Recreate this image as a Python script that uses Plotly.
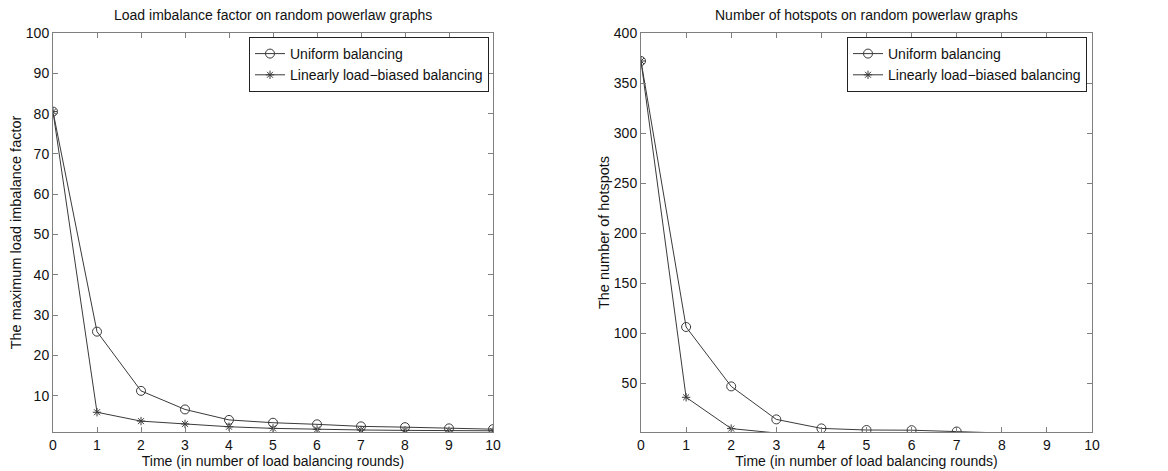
import plotly.graph_objects as go

rounds = [0, 1, 2, 3, 4, 5, 6, 7, 8, 9, 10]

imb_uniform = [80.5, 25.9, 11.2, 6.6, 4.0, 3.3, 2.9, 2.4, 2.2, 1.9, 1.7]
imb_biased = [80.5, 5.9, 3.7, 3.0, 2.3, 1.9, 1.65, 1.5, 1.4, 1.3, 1.3]

hot_uniform = [372, 106, 46.6, 13.6, 4.6, 3.0, 2.8, 1.5, 0, 0, 0]
hot_biased = [372, 35.7, 4.4, 0, 0, 0, 0, 0, 0, 0, 0]

left_yticks = [10, 20, 30, 40, 50, 60, 70, 80, 90, 100]
right_yticks = [50, 100, 150, 200, 250, 300, 350, 400]
left_yrange = [1, 100]
right_yrange = [1, 400]

series_names = ["Uniform balancing", "Linearly load\u2212biased balancing"]

FONT = "Liberation Sans, Arial, sans-serif"
LINE = "#3a3a3a"
AXC = "#7f7f7f"

fig = go.Figure()

def add(xa, ya, y, ymin, name, symbol, size, legend):
    # like MATLAB, markers below the axis limit are not drawn
    opac = [1 if v >= ymin else 0 for v in y]
    fig.add_trace(go.Scatter(
        x=rounds, y=y, mode="lines+markers", name=name,
        xaxis=xa, yaxis=ya, showlegend=False,
        line=dict(color=LINE, width=1),
        marker=dict(symbol=symbol, size=size, color=LINE, opacity=opac,
                    line=dict(color=LINE, width=1)),
    ))
    # legend entry with uniform marker styling
    fig.add_trace(go.Scatter(
        x=[None], y=[None], mode="lines+markers", name=name,
        xaxis=xa, yaxis=ya, legend=legend, showlegend=True,
        line=dict(color=LINE, width=1),
        marker=dict(symbol=symbol, size=size, color=LINE,
                    line=dict(color=LINE, width=1)),
    ))

add("x", "y", imb_uniform, left_yrange[0], series_names[0], "circle-open", 9, "legend")
add("x", "y", imb_biased, left_yrange[0], series_names[1], "asterisk-open", 7, "legend")
add("x2", "y2", hot_uniform, right_yrange[0], series_names[0], "circle-open", 9, "legend2")
add("x2", "y2", hot_biased, right_yrange[0], series_names[1], "asterisk-open", 7, "legend2")

ydom = [(471 - 432) / 471, (471 - 33) / 471]
xdom1 = [53 / 1168, 493 / 1168]
xdom2 = [641 / 1168, 1092 / 1168]

axis_common = dict(
    showline=True, linecolor=AXC, linewidth=1, mirror="ticks",
    ticks="inside", ticklen=5, tickcolor=AXC, showgrid=False, zeroline=False,
    automargin=False,
    tickfont=dict(family=FONT, size=14, color="#111"),
)
xtitle_font = dict(family=FONT, size=14, color="#111")
ytitle_font = dict(family=FONT, size=14.5, color="#111")

legend_common = dict(
    xanchor="right", yanchor="top",
    bordercolor="#222", borderwidth=1, bgcolor="white",
    font=dict(family=FONT, size=14, color="#111"),
    tracegroupgap=0, itemwidth=30,
)

fig.update_layout(
    width=1168, height=471,
    margin=dict(l=0, r=0, t=0, b=0, autoexpand=False),
    paper_bgcolor="white", plot_bgcolor="white",
    showlegend=True,
    xaxis=dict(domain=xdom1, anchor="y", range=[0, 10], dtick=1, tick0=0,
               title=dict(text="Time (in number of load balancing rounds)", standoff=2,
                          font=xtitle_font),
               **axis_common),
    yaxis=dict(domain=ydom, anchor="x", range=left_yrange, tickvals=left_yticks,
               title=dict(text="The maximum load imbalance factor", standoff=0,
                          font=ytitle_font),
               **axis_common),
    xaxis2=dict(domain=xdom2, anchor="y2", range=[0, 10], dtick=1, tick0=0,
                title=dict(text="Time (in number of load balancing rounds)", standoff=2,
                           font=xtitle_font),
                **axis_common),
    yaxis2=dict(domain=ydom, anchor="x2", range=right_yrange, tickvals=right_yticks,
                title=dict(text="The number of hotspots", standoff=0,
                           font=ytitle_font),
                **axis_common),
    legend=dict(x=489 / 1168, y=(471 - 37) / 471, **legend_common),
    legend2=dict(x=1087 / 1168, y=(471 - 37) / 471, **legend_common),
    annotations=[
        dict(text="Load imbalance factor on random powerlaw graphs",
             x=sum(xdom1) / 2, y=(471 - 15) / 471, xref="paper", yref="paper",
             xanchor="center", yanchor="middle",
             showarrow=False, font=dict(family=FONT, size=14, color="#111")),
        dict(text="Number of hotspots on random powerlaw graphs",
             x=sum(xdom2) / 2, y=(471 - 15) / 471, xref="paper", yref="paper",
             xanchor="center", yanchor="middle",
             showarrow=False, font=dict(family=FONT, size=14, color="#111")),
    ],
)

fig.write_html("out.html")
